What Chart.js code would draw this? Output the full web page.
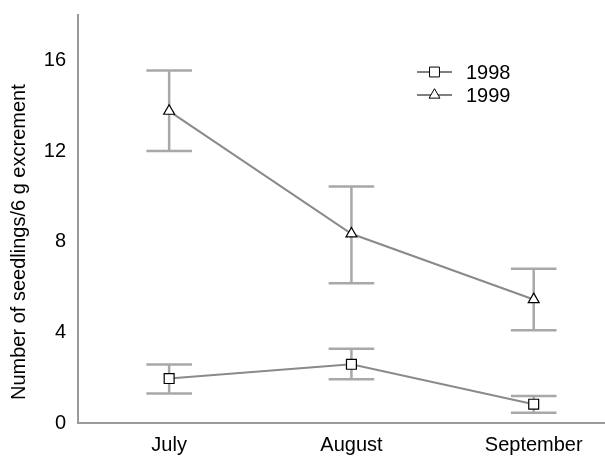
<!DOCTYPE html>
<html><head><meta charset="utf-8">
<script src="https://cdn.jsdelivr.net/npm/chart.js@4/dist/chart.umd.min.js"></script>
<style>html,body{margin:0;padding:0;background:#fff;overflow:hidden;}#wrap{width:605px;height:458px;overflow:hidden;}</style>
</head><body><div id="wrap"><canvas id="c" width="613" height="458"></canvas></div>
<script>
const categories = ['July', 'August', 'September'];
const years = ['1998', '1999'];
const mean1998 = [1.96, 2.59, 0.83];
const upper1998 = [2.58, 3.28, 1.19];
const lower1998 = [1.30, 1.93, 0.45];
const mean1999 = [13.76, 8.35, 5.45];
const upper1999 = [15.55, 10.43, 6.80];
const lower1999 = [12.00, 6.17, 4.09];
const yTicks = [0, 4, 8, 12, 16];
const yTitle = 'Number of seedlings/6 g excrement';

const FONT = 'Liberation Sans, Arial, sans-serif';
const CAP = 0.125;

function errData(hi, lo) {
  const out = [];
  hi.forEach((h, i) => {
    const x = i + 1, l = lo[i];
    out.push({x: x - CAP, y: h}, {x: x + CAP, y: h}, {x: x + CAP, y: null});
    out.push({x: x, y: h}, {x: x, y: l}, {x: x, y: null});
    out.push({x: x - CAP, y: l}, {x: x + CAP, y: l}, {x: x + CAP, y: null});
  });
  return out;
}
const pts = arr => arr.map((v, i) => ({x: i + 1, y: v}));

const lineStyle = {showLine: true, borderColor: '#8a8a8a', borderWidth: 2, pointBackgroundColor: '#fff',
  pointBorderColor: '#000', pointBorderWidth: 1.2, tension: 0};
const errStyle = {showLine: true, borderColor: '#a8a8a8', borderWidth: 2.5, pointRadius: 0, spanGaps: false};

const extrasPlugin = {
  id: 'extras',
  afterDraw(chart) {
    const ctx = chart.ctx;
    const items = [{label: years[0], style: 'rect', y: 72}, {label: years[1], style: 'triangle', y: 95}];
    ctx.save();
    items.forEach(it => {
      ctx.strokeStyle = '#000'; ctx.lineWidth = 1;
      ctx.beginPath(); ctx.moveTo(417, it.y); ctx.lineTo(452, it.y); ctx.stroke();
      ctx.fillStyle = '#fff';
      Chart.helpers.drawPoint(ctx, {pointStyle: it.style, radius: it.style === 'rect' ? 7 : 6.3, borderWidth: 1.2}, 434.5, it.y);
      ctx.fillStyle = '#000';
      ctx.font = '20px ' + FONT;
      ctx.textBaseline = 'middle';
      ctx.fillText(it.label, 466, it.y + 1);
    });
    ctx.translate(25, 400);
    ctx.rotate(-Math.PI / 2);
    ctx.fillStyle = '#000';
    ctx.font = '20px ' + FONT;
    ctx.textBaseline = 'alphabetic';
    ctx.textAlign = 'left';
    ctx.fillText(yTitle, 0, 0);
    ctx.restore();
  }
};

new Chart(document.getElementById('c'), {
  type: 'scatter',
  data: {datasets: [
    Object.assign({label: years[0], data: pts(mean1998), pointStyle: 'rect', pointRadius: 7}, lineStyle),
    Object.assign({label: years[1], data: pts(mean1999), pointStyle: 'triangle', pointRadius: 6.3}, lineStyle),
    Object.assign({label: 'err1998', data: errData(upper1998, lower1998)}, errStyle),
    Object.assign({label: 'err1999', data: errData(upper1999, lower1999)}, errStyle)
  ]},
  options: {
    responsive: false, animation: false, devicePixelRatio: 1,
    layout: {padding: {top: 15, right: 0, left: 0, bottom: 0}},
    plugins: {legend: {display: false}, tooltip: {enabled: false}},
    scales: {
      x: {type: 'linear', min: 0.5, max: 3.39,
        grid: {display: false, drawTicks: false},
        border: {display: true, color: '#9a9a9a', width: 2},
        afterBuildTicks: s => { s.ticks = categories.map((c, i) => ({value: i + 1})); },
        afterFit: s => { s.height = 35; s.paddingLeft = 0; s.paddingRight = 0; },
        ticks: {color: '#000', font: {size: 20, family: FONT}, padding: 10, maxRotation: 0,
          callback: v => categories[v - 1]}
      },
      y: {type: 'linear', min: 0, max: 18,
        grid: {display: false, drawTicks: false},
        border: {display: true, color: '#9a9a9a', width: 2},
        afterBuildTicks: s => { s.ticks = yTicks.map(v => ({value: v})); },
        afterFit: s => { s.width = 78; s.paddingTop = 0; s.paddingBottom = 0; },
        ticks: {color: '#000', font: {size: 20, family: FONT}, padding: 12}
      }
    }
  },
  plugins: [extrasPlugin]
});
</script></body></html>
